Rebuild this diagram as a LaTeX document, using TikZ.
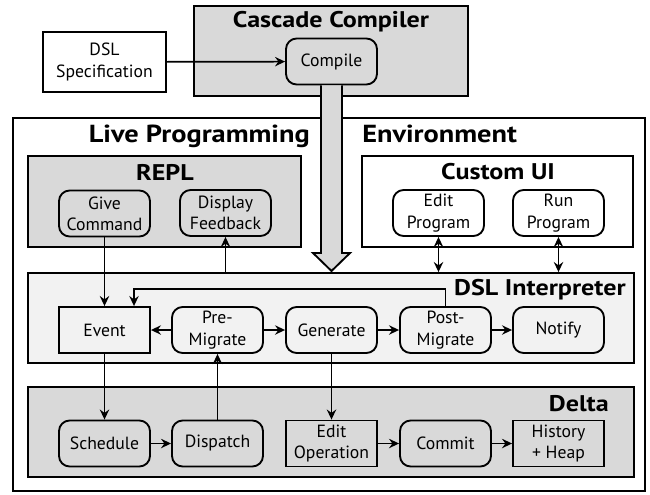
\documentclass[tikz,border=0pt]{standalone}
\usepackage{fontspec}
\setmainfont{PT Sans}
\newfontfamily\ttlfont[FakeStretch=1.15]{PT Sans}
\usetikzlibrary{arrows.meta,fit}
\definecolor{boxgray}{HTML}{D9D9D9}
\definecolor{lightgray}{HTML}{F2F2F2}
\begin{document}
\begin{tikzpicture}[x=0.75pt,y=-0.75pt,
  txt/.style={font=\fontsize{13.25}{16}\selectfont, align=center},
  ttl/.style={font=\ttlfont\bfseries\fontsize{17}{19}\selectfont, inner sep=0pt},
  bigttl/.style={font=\ttlfont\bfseries\fontsize{18.5}{20}\selectfont, inner sep=0pt},
  cont/.style={draw, line width=1.4pt, inner sep=0pt},
  rbox/.style={txt, draw, line width=1.4pt, rounded corners=8pt, minimum width=68.25pt, minimum height=34.5pt, inner sep=1pt},
  sbox/.style={txt, draw, line width=1.4pt, minimum width=68.25pt, minimum height=34.5pt, inner sep=1pt},
  tip/.tip={Stealth[length=7.5pt,width=7pt,inset=2.5pt]},
  arr/.style={line width=1.3pt, -tip},
  darr/.style={line width=1.3pt, tip-tip}
]
\useasboundingbox (0,0) rectangle (650,494);
% containers
\node[cont, fill=boxgray, fit={(194,6) (468,96)}] (cc) {};
\node[cont, line width=1.8pt, fit={(13,118) (645,491)}] (env) {};
\node[cont, fill=boxgray, fit={(28,156) (301,247)}] (repl) {};
\node[cont, fit={(362,156) (633,247)}] (ui) {};
\node[cont, fill=lightgray, fit={(28,273) (634,363)}] (interp) {};
\node[cont, fill=boxgray, fit={(28,387) (634,477)}] (delta) {};
% titles
\node[ttl] (tcc) at (331,22) {Cascade Compiler};
\node[bigttl, anchor=base east] (tlive) at (310,142) {Live Programming};
\node[bigttl, anchor=base west] (tenv) at (362,142) {Environment};
\node[ttl] (trepl) at (165,172) {REPL};
\node[ttl] (tui) at (498,172) {Custom UI};
\node[ttl, anchor=east] (tint) at (626,290) {DSL Interpreter};
\node[ttl, anchor=east] (tdelta) at (609,404) {Delta};
% nodes
\node[sbox, minimum width=92.25pt, minimum height=45pt] (spec) at (104.5,62) {DSL\\Specification};
\node[rbox] (compile) at (331.5,61.5) {Compile};
\node[rbox] (give) at (104.5,213.5) {Give\\Command};
\node[rbox] (display) at (225.5,213) {Display\\Feedback};
\node[rbox] (edit) at (438.5,213) {Edit\\Program};
\node[rbox] (run) at (558.5,213) {Run\\Program};
\node[sbox] (event) at (104.5,330) {Event};
\node[rbox] (pre) at (217.5,330) {Pre-\\Migrate};
\node[rbox] (gen) at (331.5,330) {Generate};
\node[rbox] (post) at (445.5,330) {Post-\\Migrate};
\node[rbox] (notify) at (558.5,330) {Notify};
\node[rbox] (sched) at (104.5,443.5) {Schedule};
\node[rbox] (disp) at (217.5,443.5) {Dispatch};
\node[sbox] (editop) at (331.5,443.5) {Edit\\Operation};
\node[rbox] (commit) at (445.5,443.5) {Commit};
\node[sbox] (hist) at (558.5,443.5) {History\\+ Heap};
% fat arrow
\draw[line width=1.4pt, fill=boxgray, line join=miter]
  (compile.south -| 321,0) -- (321,253) -- (313,253) -- (331.5,271) -- (350,253) -- (342,253) -- (compile.south -| 342,0);
% connectors
\draw[arr] (spec) -- (compile);
\draw[arr] (give) -- (event);
\draw[arr] (display.south |- interp.north) -- (display.south);
\draw[darr] (edit.south) -- (edit.south |- interp.north);
\draw[darr] (run.south) -- (run.south |- interp.north);
\coordinate (lp) at (134,289);
\draw[arr] (post.north) |- (lp) -- (lp |- event.north);
\draw[arr] (pre) -- (event);
\draw[arr] (pre) -- (gen);
\draw[arr] (gen) -- (post);
\draw[arr] (post) -- (notify);
\draw[arr] (event) -- (sched);
\draw[arr] (disp) -- (pre);
\draw[arr] (gen) -- (editop);
\draw[arr] (sched) -- (disp);
\draw[arr] (editop) -- (commit);
\draw[arr] (commit) -- (hist);
\end{tikzpicture}
\end{document}
